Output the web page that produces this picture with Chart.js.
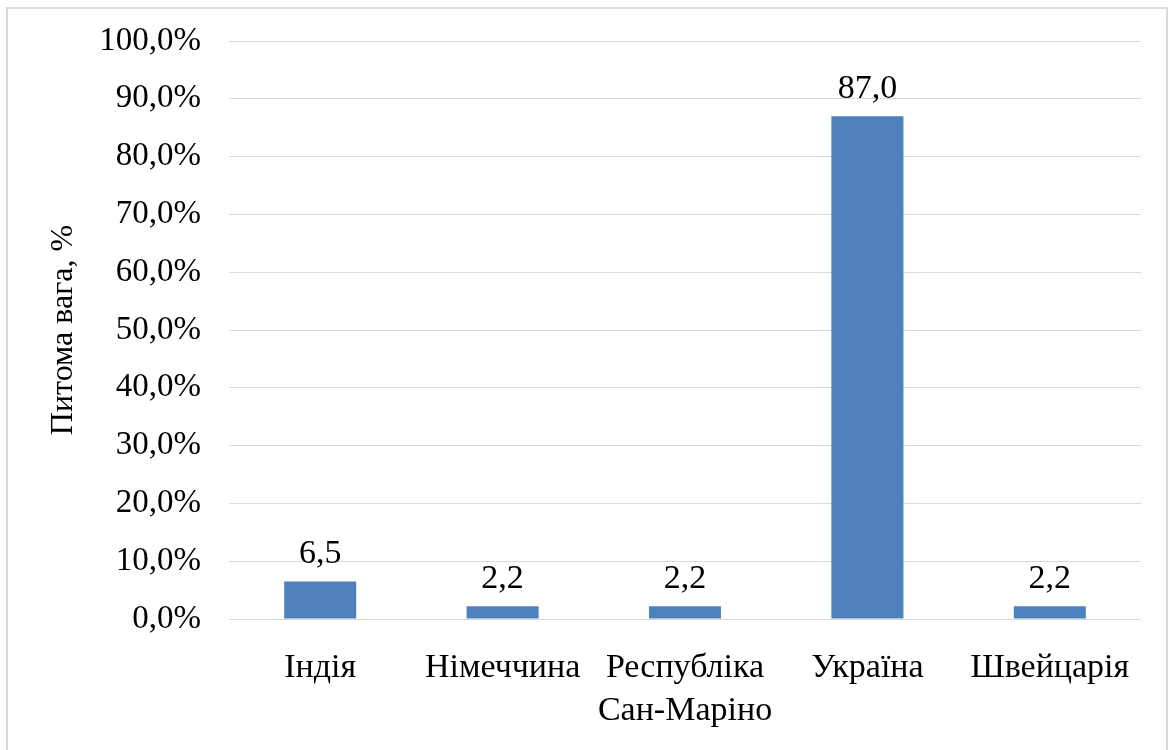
<!DOCTYPE html>
<html>
<head>
<meta charset="utf-8">
<script src="https://cdn.jsdelivr.net/npm/chart.js@4"></script>
<style>
  html, body { margin: 0; padding: 0; background: #fff; overflow: hidden; }
  #frame {
    position: absolute; left: 6px; top: 7px; width: 1162px; height: 760px;
    border: 2px solid #d9d9d9; box-sizing: border-box;
  }
  #chart { position: absolute; left: 0; top: 0; }
</style>
</head>
<body>
<div id="frame"></div>
<canvas id="chart" width="1175" height="750"></canvas>
<script>
const countries = ['Індія', 'Німеччина', ['Республіка', 'Сан-Маріно'], 'Україна', 'Швейцарія'];
const shares = [6.5, 2.2, 2.2, 87.0, 2.2];
const yTicks = [0, 10, 20, 30, 40, 50, 60, 70, 80, 90, 100];

const FONT = "'Liberation Serif', 'Times New Roman', serif";
const BAR_COLOR = '#4f81bd';

function comma(v, digits) {
  return v.toFixed(digits).replace('.', ',');
}

// value captions above each bar
const barLabels = {
  id: 'barLabels',
  afterDatasetsDraw(chart) {
    const { ctx } = chart;
    const meta = chart.getDatasetMeta(0);
    ctx.save();
    ctx.font = `34px ${FONT}`;
    ctx.fillStyle = '#000';
    ctx.textAlign = 'center';
    ctx.textBaseline = 'alphabetic';
    meta.data.forEach((bar, i) => {
      ctx.fillText(comma(shares[i], 1), bar.x, bar.y - 18);
    });
    ctx.restore();
  },
};

new Chart(document.getElementById('chart'), {
  type: 'bar',
  data: {
    labels: countries,
    datasets: [{
      data: shares,
      backgroundColor: BAR_COLOR,
      borderWidth: 0,
      categoryPercentage: 1,
      barPercentage: 0.395,
    }],
  },
  options: {
    responsive: false,
    animation: false,
    devicePixelRatio: 1,
    layout: { padding: { left: 44, top: 41, right: 34, bottom: 0 } },
    plugins: {
      legend: { display: false },
      tooltip: { enabled: false },
    },
    scales: {
      x: {
        grid: { display: false, drawTicks: false },
        border: { display: false },
        ticks: {
          color: '#000',
          font: { family: FONT, size: 34, lineHeight: 1.25 },
          padding: 28,
          maxRotation: 0,
          autoSkip: false,
        },
        afterFit(scale) { scale.height = 750 - 619; },
      },
      y: {
        min: 0,
        max: 100,
        afterBuildTicks(scale) { scale.ticks = yTicks.map((v) => ({ value: v })); },
        grid: { color: '#d9d9d9', lineWidth: 1, drawTicks: false },
        border: { display: false },
        ticks: {
          color: '#000',
          font: { family: FONT, size: 33 },
          padding: 28,
          callback: (v) => comma(v, 1) + '%',
        },
        title: {
          display: true,
          text: 'Питома вага, %',
          color: '#000',
          font: { family: FONT, size: 32 },
          padding: { top: 0, bottom: 10 },
        },
        afterFit(scale) {
          scale.width = 229 - 44;
          scale.paddingTop = 0;
          scale.paddingBottom = 0;
        },
      },
    },
  },
  plugins: [barLabels],
});
</script>
</body>
</html>
